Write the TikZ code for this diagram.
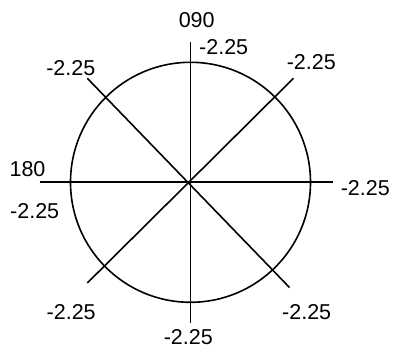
\documentclass[tikz,border=0pt]{standalone}
\usepackage{fontspec}
\setmainfont{Liberation Sans}
\begin{document}
\begin{tikzpicture}[x=1pt,y=-1pt,
  ln/.style={line width=1.6pt,line cap=butt},
  lbl/.style={anchor=base,inner sep=0pt,font=\fontsize{21.5}{24}\selectfont}]
\useasboundingbox (0,0) rectangle (394,347);
\coordinate (c) at (190.5,182.3);
\draw[ln] (c) circle[radius=120];
\coordinate (vt) at (190.3,42);
\coordinate (vb) at (190.3,323.5);
\coordinate (hl) at (40,182.3);
\coordinate (hr) at (332.5,182.3);
\coordinate (nw) at (87.3,78.3);
\coordinate (se) at (289.5,287.5);
\coordinate (ne) at (293.5,78.3);
\coordinate (sw) at (87.3,283);
\draw[ln] (vt) -- (vb);
\draw[ln] (hl) -- (hr);
\draw[ln] (nw) -- (se);
\draw[ln] (ne) -- (sw);
\node[lbl] (l090) at (196.7,28) {090};
\node[lbl] (ltop) at (223.7,55) {-2.25};
\node[lbl] (lne) at (311.3,69.3) {-2.25};
\node[lbl] (lnw) at (70.8,76) {-2.25};
\node[lbl] (l180) at (27.5,176.7) {180};
\node[lbl] (lr) at (365.3,196) {-2.25};
\node[lbl] (ll) at (34.7,219) {-2.25};
\node[lbl] (lsw) at (71.2,320) {-2.25};
\node[lbl] (lse) at (306.7,320) {-2.25};
\node[lbl] (lbot) at (188.3,344.5) {-2.25};
\end{tikzpicture}
\end{document}
